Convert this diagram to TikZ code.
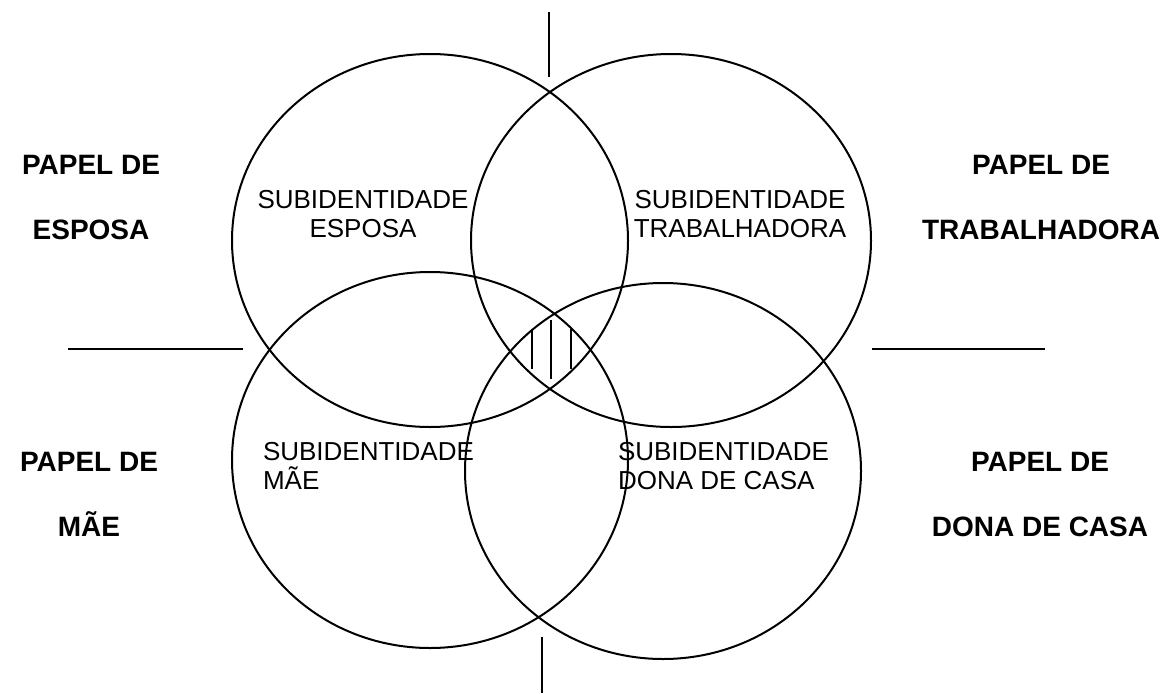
\documentclass[tikz,border=0pt]{standalone}
\usepackage{fontspec}
\setmainfont{Liberation Sans}

\tikzset{every picture/.style={line width=1.5pt}}
\tikzset{
  papel/.style={align=center, inner sep=0.75pt, font=\bfseries\fontsize{21}{48.75}\selectfont},
  subid/.style={inner sep=0.75pt, font=\fontsize{19.5}{21.75}\selectfont},
}

\begin{document}
\begin{tikzpicture}[x=0.75pt,y=0.75pt,yscale=-1,xscale=1]
\useasboundingbox (0,0) rectangle (1163,693);

%Shape: Ellipse [esposa]
\draw (430,240.5) ellipse [x radius=198, y radius=186.5];
%Shape: Ellipse [trabalhadora]
\draw (671,240.5) ellipse [x radius=200, y radius=186.5];
%Shape: Ellipse [mae]
\draw (430,460) ellipse [x radius=198, y radius=188];
%Shape: Ellipse [donadecasa]
\draw (663,471) ellipse [x radius=198, y radius=188];

%Straight Lines [hatch]
\draw (532,329) -- (532,369) ;
\draw (551,320) -- (551,379) ;
\draw (571,329) -- (571,369) ;

%Straight Lines [dividers]
\coordinate (divL1) at (68,349);  \coordinate (divL2) at (243,349);
\coordinate (divR1) at (872,349); \coordinate (divR2) at (1045,349);
\coordinate (divT1) at (549,12);  \coordinate (divT2) at (549,77);
\coordinate (divB1) at (542,637); \coordinate (divB2) at (542,693);
\draw (divL1) -- (divL2) ;
\draw (divR1) -- (divR2) ;
\draw (divT1) -- (divT2) ;
\draw (divB1) -- (divB2) ;

% Text Node
\node [subid, align=center] (subEsposa) at (363,214) {SUBIDENTIDADE\\ESPOSA};
% Text Node
\node [subid, align=center] (subTrab) at (740,214) {SUBIDENTIDADE\\TRABALHADORA};
% Text Node
\node [subid, align=left, anchor=west] (subMae) at (261,466) {SUBIDENTIDADE\\MÃE};
% Text Node
\node [subid, align=left, anchor=west] (subDona) at (616,466) {SUBIDENTIDADE\\DONA DE CASA};

% Text Node
\node [papel] (papelEsposa) at (91,197) {PAPEL DE\\ESPOSA};
% Text Node
\node [papel] (papelTrab) at (1041,197) {PAPEL DE\\TRABALHADORA};
% Text Node
\node [papel] (papelMae) at (89,494) {PAPEL DE\\MÃE};
% Text Node
\node [papel] (papelDona) at (1040,494) {PAPEL DE\\DONA DE CASA};

\end{tikzpicture}
\end{document}
